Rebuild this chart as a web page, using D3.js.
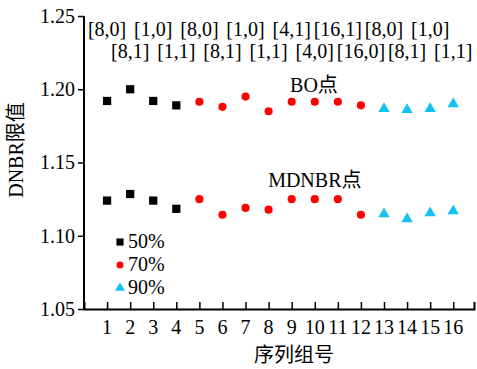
<!DOCTYPE html>
<html>
<head>
<meta charset="utf-8">
<script src="https://cdn.jsdelivr.net/npm/d3@7"></script>
<style>
  body { margin: 0; background: #fff; }
  svg text { font-family: "Liberation Serif", "Noto Sans CJK SC", serif; fill: #000; font-size: 20px; }
</style>
</head>
<body>
<div id="chart"></div>
<script>
// Data
const groups = d3.range(1, 17);
const seqLabels = ['[8,0]', '[8,1]', '[1,0]', '[1,1]', '[8,0]', '[8,1]', '[1,0]', '[1,1]',
                   '[4,1]', '[4,0]', '[16,1]', '[16,0]', '[8,0]', '[8,1]', '[1,0]', '[1,1]'];
const boValues = [1.192, 1.200, 1.192, 1.189, 1.1915, 1.188, 1.195, 1.185,
                  1.1915, 1.1915, 1.1915, 1.189, 1.1867, 1.186, 1.1867, 1.190];
const mdnbrValues = [1.124, 1.1285, 1.124, 1.1184, 1.125, 1.1143, 1.119, 1.1178,
                     1.125, 1.125, 1.125, 1.1143, 1.1148, 1.1114, 1.1155, 1.1169];
// loading level per group
const levels = ['50%', '50%', '50%', '50%', '70%', '70%', '70%', '70%',
                '70%', '70%', '70%', '70%', '90%', '90%', '90%', '90%'];
const legendItems = ['50%', '70%', '90%'];
const yTicks = [1.05, 1.10, 1.15, 1.20, 1.25];

const width = 477, height = 369;
const margin = { left: 84, right: 3, top: 16, bottom: 60 };

const svg = d3.select('#chart').append('svg')
    .attr('width', width)
    .attr('height', height);

const x = d3.scaleLinear().domain([0, 16.9]).range([margin.left, width - margin.right]);
const y = d3.scaleLinear().domain([1.05, 1.25]).range([height - margin.bottom, margin.top]);

const color = d3.scaleOrdinal().domain(legendItems).range(['#000000', '#ff0000', '#12c3f2']);
const shape = d3.scaleOrdinal().domain(legendItems)
    .range([d3.symbolSquare, d3.symbolCircle, d3.symbolTriangle]);
const size = d3.scaleOrdinal().domain(legendItems).range([68, 52, 56]);

// Axes
const xAxis = svg.append('g')
    .attr('transform', `translate(0, ${y(1.05)})`)
    .call(d3.axisTop(x).tickValues(groups).tickSize(7).tickFormat(''));
xAxis.select('.domain').attr('stroke-width', 2);
xAxis.selectAll('.tick line').attr('stroke-width', 1.5);

// tick labels below axis
svg.append('g').selectAll('text')
    .data(groups)
    .join('text')
    .attr('x', d => x(d))
    .attr('y', y(1.05) + 25)
    .attr('text-anchor', 'middle')
    .text(d => d);

const yAxis = svg.append('g')
    .attr('transform', `translate(${margin.left}, 0)`)
    .call(d3.axisLeft(y).tickValues(yTicks).tickSize(6).tickPadding(3).tickFormat(d3.format('.2f')));
yAxis.select('.domain').attr('stroke-width', 2).attr('d', `M0,${y(1.05)}V${y(1.25)}`);
yAxis.selectAll('.tick line').attr('stroke-width', 1.5);
yAxis.selectAll('.tick text')
    .style('font-family', '"Liberation Serif", serif')
    .style('font-size', '20px');

// Axis titles
svg.append('text')
    .attr('x', x(9.1))
    .attr('y', 362)
    .attr('text-anchor', 'middle')
    .text('序列组号');

svg.append('text')
    .attr('transform', `translate(23, 150) rotate(-90)`)
    .attr('text-anchor', 'middle')
    .text('DNBR限值');

// Sequence labels, odd groups on the top row, even on the second
svg.append('g').selectAll('text')
    .data(groups)
    .join('text')
    .attr('x', d => x(d))
    .attr('y', d => d % 2 === 1 ? 36 : 58)
    .attr('text-anchor', 'middle')
    .text((d, i) => seqLabels[i]);

// Points
function drawPoints(values) {
    svg.append('g').selectAll('path')
        .data(values)
        .join('path')
        .attr('transform', (d, i) => `translate(${x(groups[i])}, ${y(d)})`)
        .attr('d', (d, i) => d3.symbol().type(shape(levels[i])).size(size(levels[i]))())
        .attr('fill', (d, i) => color(levels[i]));
}
drawPoints(boValues);
drawPoints(mdnbrValues);

// Annotations
svg.append('text')
    .attr('x', x(8.93))
    .attr('y', y(1.198))
    .text('BO点');

svg.append('text')
    .attr('x', x(7.98))
    .attr('y', y(1.1335))
    .text('MDNBR点');

// Legend
const legend = svg.append('g')
    .selectAll('g')
    .data(legendItems)
    .join('g')
    .attr('transform', (d, i) => `translate(120, ${242 + i * 23})`);
legend.append('path')
    .attr('d', d => d3.symbol().type(shape(d)).size(size(d) * 0.75)())
    .attr('fill', d => color(d));
legend.append('text')
    .attr('x', 8)
    .attr('y', 6)
    .text(d => d);
</script>
</body>
</html>
